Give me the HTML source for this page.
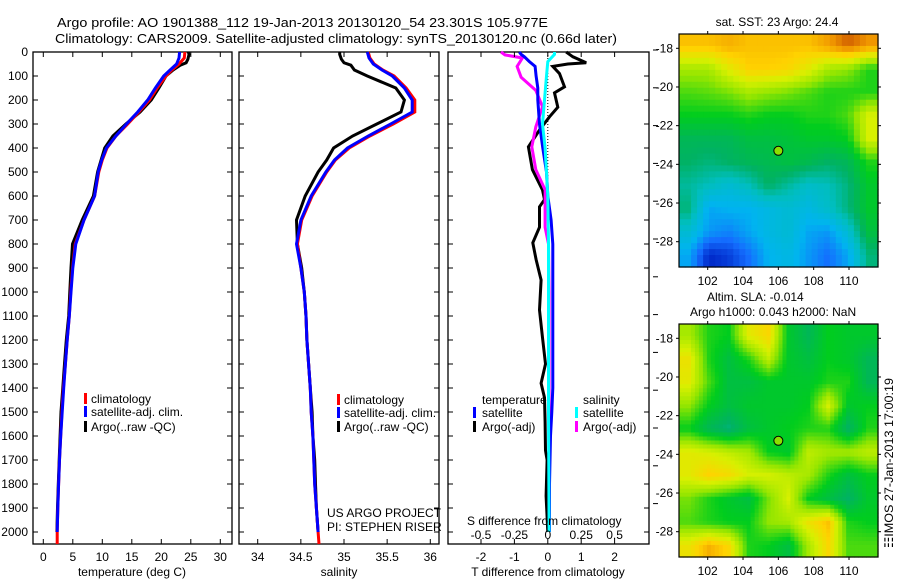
<!DOCTYPE html>
<html><head><meta charset="utf-8"><style>
html,body{margin:0;padding:0;background:#fff;}
svg{display:block;font-family:"Liberation Sans",sans-serif;}
</style></head><body>
<svg id="fig" width="900" height="580" viewBox="0 0 900 580" xmlns="http://www.w3.org/2000/svg">
<text x="57" y="27" font-size="13" textLength="491" lengthAdjust="spacingAndGlyphs">Argo profile: AO 1901388_112 19-Jan-2013 20130120_54 23.301S 105.977E</text>
<text x="55" y="43" font-size="13" textLength="562" lengthAdjust="spacingAndGlyphs">Climatology: CARS2009. Satellite-adjusted climatology: synTS_20130120.nc (0.66d later)</text>
<g id="g"></g>
</svg>
<script>
// ---------- profile data ----------
const depthClim = [0,25,50,75,100,150,200,250,300,350,400,450,500,600,700,800,900,1000,1100,1200,1300,1400,1500,1600,1700,1800,1900,2000,2050];
const depthSat = [0,25,50,75,100,150,200,250,300,350,400,450,500,600,700,800,900,1000,1100,1200,1300,1400,1500,1600,1700,1800,1900,2000];
const depthArgo = [0,10,30,45,55,75,100,150,200,250,300,350,400,450,500,600,700,800,900,1000,1100,1200,1300,1400,1500,1600,1700,1800,1900,2000];
const tempClim = [24.0,23.9,23.0,21.8,20.8,19.3,18.0,16.2,14.3,12.3,10.8,10.0,9.4,8.7,6.9,5.4,4.95,4.65,4.4,4.05,3.75,3.4,3.15,2.95,2.75,2.6,2.45,2.35,2.35];
const tempSat = [23.1,23.0,22.6,21.5,20.4,19.0,17.7,16.0,14.1,12.3,10.7,9.9,9.3,8.7,6.9,5.5,5.0,4.7,4.4,4.05,3.75,3.45,3.2,2.95,2.75,2.6,2.45,2.35];
const tempArgo = [24.6,24.7,24.5,24.2,23.2,22.0,20.8,19.6,18.3,16.4,14.0,11.8,10.4,9.8,9.2,8.5,6.6,4.95,4.7,4.5,4.3,3.9,3.6,3.3,3.0,2.85,2.7,2.55,2.4,2.3];
const salClim = [35.28,35.3,35.35,35.45,35.58,35.72,35.82,35.82,35.57,35.3,35.06,34.9,34.8,34.63,34.51,34.46,34.5,34.54,34.56,34.57,34.59,34.61,34.62,34.64,34.65,34.66,34.68,34.7,34.71];
const salSat = [35.27,35.29,35.34,35.44,35.56,35.7,35.79,35.79,35.54,35.28,35.04,34.89,34.79,34.62,34.5,34.45,34.5,34.54,34.56,34.57,34.59,34.61,34.62,34.64,34.65,34.66,34.68,34.7];
const salArgo = [34.95,34.95,34.97,35.0,35.08,35.12,35.27,35.6,35.7,35.66,35.38,35.1,34.88,34.8,34.7,34.55,34.45,34.46,34.51,34.54,34.56,34.57,34.59,34.61,34.63,34.64,34.66,34.67,34.68,34.7];
// ---------- difference data ----------
const depthDTsat = [0,10,20,40,60,100,150,200,300,400,500,600,700,800,1000,1200,1400,1500,1600,1800,1900,2000];
const diffTsat = [-0.85,-0.8,-0.7,-0.55,-0.38,-0.35,-0.3,-0.3,-0.25,-0.15,-0.04,0.0,0.1,0.15,0.15,0.15,0.15,0.12,0.08,0.05,0.05,0.05];
const depthDTargo = [0,5,20,45,50,60,90,145,170,230,270,325,395,490,575,615,645,730,795,865,950,1075,1190,1300,1380,1440,1540,1660,1700,1850,2000];
const diffTargo = [0.55,0.6,0.75,1.15,0.6,0.15,0.35,0.5,0.2,0.3,0.05,-0.25,-0.58,-0.46,-0.16,-0.1,-0.25,-0.25,-0.45,-0.35,-0.2,-0.25,-0.16,-0.07,-0.2,-0.1,-0.08,-0.07,-0.02,-0.05,0.0];
const depthDSsat = [0,10,40,100,170,300,400,500,600,800,1000,1500,2000];
const diffSsat = [0.05,0.05,0.0,-0.01,-0.02,-0.04,-0.02,-0.01,0.0,0.005,0.005,0.005,0.01];
const depthDSargo = [0,12,25,60,105,160,228,312,395,490,575,730,800,1000,1500,1650];
const diffSargo = [-0.35,-0.32,-0.19,-0.23,-0.2,-0.09,-0.04,-0.09,-0.12,-0.09,-0.02,-0.02,0.005,0.01,0.01,0.01];
// ---------- ticks ----------
const depthTicks = [0,100,200,300,400,500,600,700,800,900,1000,1100,1200,1300,1400,1500,1600,1700,1800,1900,2000];
const tempTicks = [0,5,10,15,20,25,30];
const salTicks = [34,34.5,35,35.5,36];
const salTickLabels = ["34","34.5","35","35.5","36"];
const dTTicks = [-2,-1,0,1,2];
const dSTicks = [-0.5,-0.25,0,0.25,0.5];
const dSTickLabels = ["-0.5","-0.25","0","0.25","0.5"];
const lonTicks = [102,104,106,108,110];
const latTicks = [-18,-20,-22,-24,-26,-28];
// ---------- map data (0..1 colour index) ----------
const sstGrid = [
[0.88,0.88,0.9,0.88,0.88,0.88,0.88,0.92,0.97,0.93],
[0.72,0.72,0.8,0.86,0.86,0.85,0.8,0.72,0.7,0.62],
[0.65,0.66,0.68,0.72,0.7,0.68,0.65,0.62,0.62,0.62],
[0.6,0.6,0.6,0.62,0.6,0.6,0.62,0.62,0.65,0.78],
[0.52,0.52,0.52,0.55,0.55,0.56,0.58,0.58,0.6,0.78],
[0.5,0.48,0.5,0.52,0.53,0.55,0.53,0.5,0.52,0.62],
[0.45,0.42,0.38,0.42,0.5,0.45,0.4,0.42,0.48,0.58],
[0.48,0.3,0.32,0.32,0.35,0.38,0.35,0.4,0.48,0.58],
[0.38,0.28,0.25,0.3,0.35,0.38,0.3,0.28,0.38,0.55],
[0.3,0.12,0.15,0.22,0.32,0.35,0.28,0.22,0.3,0.48]];
const slaGrid = [
[0.72,0.62,0.6,0.8,0.85,0.58,0.52,0.6,0.58,0.58],
[0.82,0.62,0.55,0.62,0.75,0.58,0.55,0.6,0.58,0.52],
[0.8,0.65,0.55,0.55,0.58,0.58,0.58,0.62,0.62,0.52],
[0.7,0.6,0.55,0.58,0.58,0.58,0.6,0.78,0.58,0.6],
[0.6,0.52,0.48,0.55,0.58,0.6,0.62,0.62,0.5,0.62],
[0.8,0.78,0.75,0.72,0.6,0.58,0.75,0.72,0.72,0.75],
[0.8,0.86,0.84,0.78,0.78,0.75,0.72,0.62,0.55,0.6],
[0.68,0.62,0.58,0.55,0.68,0.78,0.6,0.55,0.5,0.58],
[0.65,0.62,0.6,0.6,0.7,0.72,0.82,0.88,0.62,0.6],
[0.82,0.9,0.85,0.62,0.6,0.55,0.72,0.85,0.65,0.65]];
const argoLon = 106.0, argoLat = -23.3;

const NS="http://www.w3.org/2000/svg";
const G=document.getElementById('g');
function el(tag,attrs,parent){const e=document.createElementNS(NS,tag);for(const k in attrs)e.setAttribute(k,attrs[k]);(parent||G).appendChild(e);return e;}
function txt(s,x,y,attrs,parent){const t=el('text',Object.assign({x:x,y:y,'font-size':12},attrs||{}),parent);t.textContent=s;return t;}

const Y0=52, PPM=0.24;
const yD=d=>Y0+d*PPM;
function lin(d0,d1,r0,r1){return v=>r0+(v-d0)/(d1-d0)*(r1-r0);}
const P=[{x0:33,x1:232},{x0:239,x1:439},{x0:448,x1:649}];
const xT=lin(0,30,43.3,43.3+30*5.9);
const xS=lin(34,36,257.7,430.3);
const xDT=lin(-2,2,481,614.6);
const xDS=v=>xDT(v*4);

function panel(i,name){
  const p=P[i];
  const g=el('g',{});
  
  
  const r=el('rect',{x:p.x0,y:Y0,width:p.x1-p.x0,height:544-Y0,fill:'none',stroke:'#000','stroke-width':1.3},g);
  
  
  depthTicks.forEach(d=>{
    el('line',{x1:p.x0,x2:p.x0+5,y1:yD(d),y2:yD(d),stroke:'#000'},g);
    el('line',{x1:p.x1,x2:p.x1-5,y1:yD(d),y2:yD(d),stroke:'#000'},g);
  });
  return g;
}
function line(xs,ds,xf,color,name,parent,w){
  let d='';xs.forEach((v,i)=>{d+=(i?'L':'M')+xf(v).toFixed(1)+','+yD(ds[i]).toFixed(1);});
  const pth=el('path',{d:d,fill:'none',stroke:color,'stroke-width':w||3,'stroke-linejoin':'miter'},parent);
  
  
}
function xticks(g,ticks,labels,xf,ylab){
  ticks.forEach((t,i)=>{
    el('line',{x1:xf(t),x2:xf(t),y1:544,y2:539,stroke:'#000'},g);
    el('line',{x1:xf(t),x2:xf(t),y1:Y0,y2:Y0+5,stroke:'#000'},g);
    const tl=txt(labels[i],xf(t),ylab,{'text-anchor':'middle'},g);
    
    
  });
}
function legend(g,x,ys,colors,labels,tx){
  colors.forEach((c,i)=>{
    el('rect',{x:x,y:ys[i]-6,width:3,height:11,fill:c},g);
    const t=txt(labels[i],tx,ys[i]+4,{},g);
    
    
  });
}

depthTicks.forEach(d=>{
  const t=txt(String(d),28,yD(d)+4,{'text-anchor':'end'});
  
  
});

const g1=panel(0,'temperature-panel');
line(tempArgo,depthArgo,xT,'#000','argo-temperature-line',g1);
line(tempClim,depthClim,xT,'#f00','climatology-temperature-line',g1);
line(tempSat,depthSat,xT,'#00f','satellite-temperature-line',g1);
xticks(g1,tempTicks,tempTicks.map(String),xT,561);
const a1=txt('temperature (deg C)',132,576,{'text-anchor':'middle'},g1);


legend(g1,84,[399,412,427],['#f00','#00f','#000'],['climatology','satellite-adj. clim.','Argo(..raw -QC)'],91);

const g2=panel(1,'salinity-panel');
line(salArgo,depthArgo,xS,'#000','argo-salinity-line',g2);
line(salClim,depthClim,xS,'#f00','climatology-salinity-line',g2);
line(salSat,depthSat,xS,'#00f','satellite-salinity-line',g2);
xticks(g2,salTicks,salTickLabels,xS,561);
const a2=txt('salinity',339,576,{'text-anchor':'middle'},g2);


legend(g2,337,[400,413,427],['#f00','#00f','#000'],['climatology','satellite-adj. clim.','Argo(..raw -QC)'],344);
const u1=txt('US ARGO PROJECT',327,517,{},g2);


const u2=txt('PI: STEPHEN RISER',327,531,{},g2);



const g3=panel(2,'difference-panel');
const zl=el('line',{x1:xDT(0),x2:xDT(0),y1:Y0,y2:265,stroke:'#000','stroke-dasharray':'1,2'},g3);


line(diffTargo,depthDTargo,xDT,'#000','argo-temperature-diff-line',g3);
line(diffSargo,depthDSargo,xDS,'#f0f','argo-salinity-diff-line',g3);
line(diffTsat,depthDTsat,xDT,'#00f','satellite-temperature-diff-line',g3);
line(diffSsat,depthDSsat,xDS,'#0ff','satellite-salinity-diff-line',g3);
xticks(g3,dTTicks,dTTicks.map(String),xDT,561);
dSTicks.forEach((t,i)=>{
  const tl=txt(dSTickLabels[i],xDS(t),539,{'text-anchor':'middle'},g3);
  
  
});
const a3=txt('T difference from climatology',548,576,{'text-anchor':'middle'},g3);


const a4=txt('S difference from climatology',467,525,{},g3);


const lt=txt('temperature',482,404,{},g3);


const ls=txt('salinity',583,404,{},g3);


legend(g3,473,[413,427],['#00f','#000'],['satellite','Argo(-adj)'],482);
legend(g3,575,[413,427],['#0ff','#f0f'],['satellite','Argo(-adj)'],583);
for(let k=0;k<13;k++){const yy=50+k*37.8;el('line',{x1:653,x2:658,y1:yy,y2:yy,stroke:'#000'},g3);}

const stops=[[0,0,0,140],[0.12,0,40,200],[0.22,20,110,255],[0.32,0,180,240],[0.42,0,190,190],[0.5,0,178,100],[0.6,0,205,30],[0.7,150,230,0],[0.78,215,240,0],[0.86,255,210,0],[0.93,240,150,0],[1,190,60,0]];
function cmap(v){v=Math.max(0,Math.min(1,v));for(let i=1;i<stops.length;i++){if(v<=stops[i][0]){const a=stops[i-1],b=stops[i],f=(v-a[0])/(b[0]-a[0]);return 'rgb('+[1,2,3].map(j=>Math.round(a[j]+f*(b[j]-a[j]))).join(',')+')';}}return 'rgb(190,60,0)';}
function sample(grid,fr,fc){
  const R=grid.length,C=grid[0].length;
  let r=fr*R-0.5,c=fc*C-0.5;r=Math.max(0,Math.min(R-1,r));c=Math.max(0,Math.min(C-1,c));
  const r0=Math.floor(r),c0=Math.floor(c),r1=Math.min(R-1,r0+1),c1=Math.min(C-1,c0+1),fy=r-r0,fx=c-c0;
  return grid[r0][c0]*(1-fx)*(1-fy)+grid[r0][c1]*fx*(1-fy)+grid[r1][c0]*(1-fx)*fy+grid[r1][c1]*fx*fy;
}
const MX0=679,MX1=878;
const xLon=lin(102,110,707.7,849);
function map(top,bot,grid,name,cell){
  const g=el('g',{});
  
  
  const yLat=lin(-18,-28,top+14.3,top+207.7);
  const W=MX1-MX0,H=bot-top,nx=Math.round(W/cell),ny=Math.round(H/cell);
  for(let i=0;i<ny;i++)for(let j=0;j<nx;j++){
    const v=sample(grid,(i+0.5)/ny,(j+0.5)/nx);
    el('rect',{x:(MX0+j*W/nx).toFixed(2),y:(top+i*H/ny).toFixed(2),width:(W/nx+0.6).toFixed(2),height:(H/ny+0.6).toFixed(2),fill:cmap(v)},g);
  }
  const fr=el('rect',{x:MX0,y:top,width:W,height:H,fill:'none',stroke:'#000','stroke-width':1.2},g);
  
  
  lonTicks.forEach(l=>{
    el('line',{x1:xLon(l),x2:xLon(l),y1:top,y2:top-3,stroke:'#000'},g);
    el('line',{x1:xLon(l),x2:xLon(l),y1:bot,y2:bot+3,stroke:'#000'},g);
    const t=txt(String(l),xLon(l),bot+18,{'text-anchor':'middle'},g);
    
    
  });
  latTicks.forEach(l=>{
    el('line',{x1:MX0,x2:MX0-3,y1:yLat(l),y2:yLat(l),stroke:'#000'},g);
    el('line',{x1:MX1,x2:MX1+3,y1:yLat(l),y2:yLat(l),stroke:'#000'},g);
    const t=txt(String(l),673,yLat(l)+4,{'text-anchor':'end'},g);
    
    
  });
  const c=el('circle',{cx:xLon(argoLon),cy:yLat(argoLat),r:4.5,fill:'#8ce000',stroke:'#000','stroke-width':1},g);
  
  
  return g;
}
map(34,267,sstGrid,'sst-map',6);
map(324,557,slaGrid,'sla-map',4);
const mt=txt('sat. SST: 23 Argo: 24.4',777,26,{'text-anchor':'middle'});


const m2=txt('Altim. SLA: -0.014',707,301);


const m3=txt('Argo h1000: 0.043 h2000: NaN',690,316);


const im=txt('\u2637IMOS 27-Jan-2013 17:00:19',0,0,{transform:'translate(893,548) rotate(-90)','textLength':170,'lengthAdjust':'spacingAndGlyphs'});


</script>
</body></html>
